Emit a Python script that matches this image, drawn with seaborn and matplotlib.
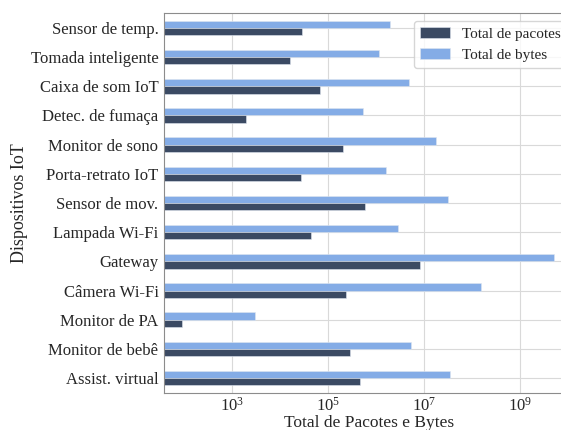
import matplotlib
matplotlib.use("Agg")
import matplotlib.pyplot as plt
import seaborn as sns
import pandas as pd

dispositivos = ["Sensor de temp.", "Tomada inteligente", "Caixa de som IoT", "Detec. de fumaça",
                "Monitor de sono", "Porta-retrato IoT", "Sensor de mov.", "Lampada Wi-Fi",
                "Gateway", "Câmera Wi-Fi", "Monitor de PA", "Monitor de bebê", "Assist. virtual"]
total_pacotes = [2.9e4, 1.6e4, 6.8e4, 1.9e3, 2.0e5, 2.7e4, 5.7e5, 4.3e4, 8.0e6, 2.3e5, 91, 2.9e5, 4.5e5]
total_bytes = [1.9e6, 1.14e6, 4.9e6, 5.3e5, 1.75e7, 1.6e6, 3.1e7, 2.8e6, 5.0e9, 1.54e8, 3.0e3, 5.2e6, 3.4e7]

series_names = ["Total de pacotes", "Total de bytes"]

df = pd.DataFrame({
    "Dispositivo": dispositivos * 2,
    "Valor": total_pacotes + total_bytes,
    "Métrica": [series_names[0]] * len(dispositivos) + [series_names[1]] * len(dispositivos),
})

sns.set_theme(style="whitegrid")
plt.rcParams["font.family"] = ["Liberation Serif", "DejaVu Serif"]

fig = plt.figure(figsize=(5.61, 4.30), dpi=100)
ax = fig.add_axes([164 / 561, 1 - 392.7 / 430, (575 - 164) / 561, (392.7 - 13.3) / 430])

palette = {"Total de pacotes": "#3b4a63", "Total de bytes": "#84ace6"}
sns.barplot(data=df, y="Dispositivo", x="Valor", hue="Métrica", orient="h",
            order=dispositivos, hue_order=["Total de bytes", "Total de pacotes"],
            palette=palette, width=0.5, ax=ax,
            edgecolor="#dfe6f0", linewidth=0.4, saturation=1)

ax.set_xscale("log")
ax.set_xlim(37.8, 1.38e10)
ax.set_ylim(12.5, -0.5)
ax.set_xlabel("Total de Pacotes e Bytes", fontsize=12.5, labelpad=0)
ax.set_ylabel("Dispositivos IoT", fontsize=13, labelpad=2)
ax.tick_params(axis="y", labelsize=12, length=3, color="0.55", pad=1)
ax.tick_params(axis="x", labelsize=12, length=0, pad=3)
ax.tick_params(axis="x", which="minor", length=0)
ax.grid(True, which="major", color="0.85", linewidth=0.8)
ax.grid(False, which="minor")
for s in ax.spines.values():
    s.set_color("0.55")
    s.set_linewidth(0.8)

handles, labels = ax.get_legend_handles_labels()
hmap = dict(zip(labels, handles))
ax.legend([hmap[n] for n in series_names], series_names, loc="upper right",
          fontsize=11, frameon=True, title=None)

fig.savefig("out.png", dpi=100)
